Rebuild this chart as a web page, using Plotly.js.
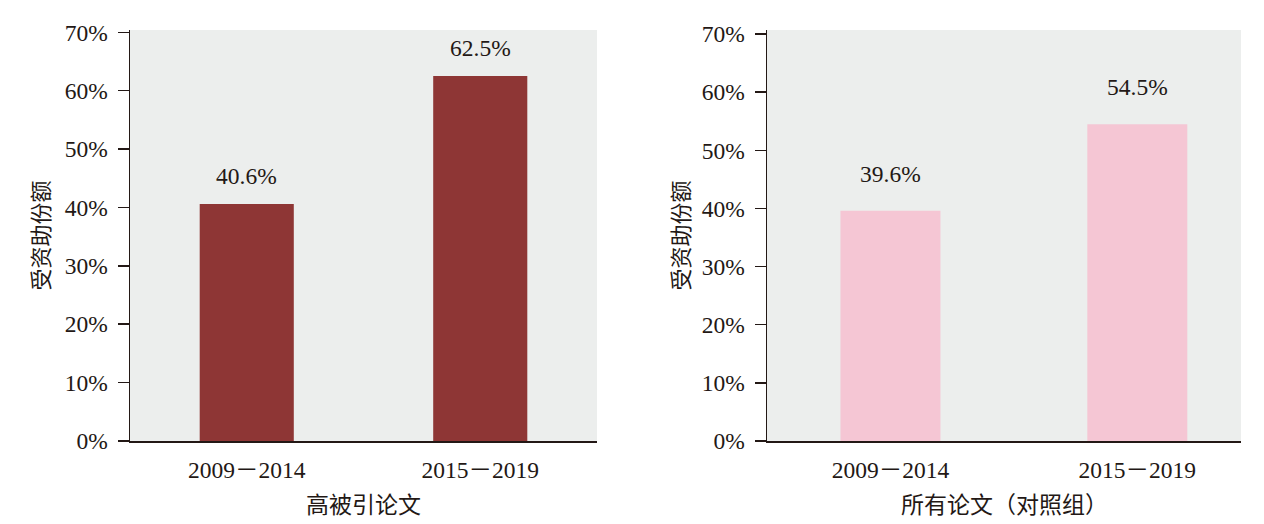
<!DOCTYPE html>
<html>
<head>
<meta charset="utf-8">
<script src="https://cdn.plot.ly/plotly-3.0.1.min.js"></script>
<style>html,body{margin:0;padding:0;background:#fff;}#chart{width:1264px;height:524px;}</style>
</head>
<body>
<div id="chart"></div>
<script>
// Data
var periods = ["2009－2014", "2015－2019"];
var highlyCitedShare = [40.6, 62.5];
var allPapersShare = [39.6, 54.5];
var yTickValues = [0, 10, 20, 30, 40, 50, 60, 70];
var yTickLabels = ["0%", "10%", "20%", "30%", "40%", "50%", "60%", "70%"];
var leftTitle = "高被引论文";
var rightTitle = "所有论文（对照组）";
var yTitle = "受资助份额";

var W = 1264;
var ink = "#231815";
var FONT = "'Liberation Serif', 'Times New Roman', 'Noto Sans CJK SC', serif";
var CJK = "'Noto Sans CJK SC', serif";

function fmt(v) { return v.toFixed(1) + "%"; }

var traces = [
  {type: "bar", x: periods, y: highlyCitedShare, xaxis: "x", yaxis: "y",
   marker: {color: "#8E3635"}, width: 0.403, hoverinfo: "x+y"},
  {type: "bar", x: periods, y: allPapersShare, xaxis: "x2", yaxis: "y2",
   marker: {color: "#F5C6D4"}, width: 0.405, hoverinfo: "x+y"}
];

var annotations = [];
periods.forEach(function (p, i) {
  annotations.push({xref: "x", yref: "y", x: p, y: highlyCitedShare[i], text: fmt(highlyCitedShare[i]),
    showarrow: false, xanchor: "center", yanchor: "middle", yshift: 28, font: {family: FONT, size: 23.5, color: ink}});
  annotations.push({xref: "x2", yref: "y2", x: p, y: allPapersShare[i], text: fmt(allPapersShare[i]),
    showarrow: false, xanchor: "center", yanchor: "middle", yshift: 37, font: {family: FONT, size: 23.5, color: ink}});
});

var d1 = [130 / W, 597 / W];
var d2 = [767 / W, 1241 / W];

annotations.push({xref: "paper", yref: "paper", x: (d1[0] + d1[1]) / 2, y: 0, yshift: -62,
  text: leftTitle, showarrow: false, xanchor: "center", yanchor: "middle", font: {family: CJK, size: 23, color: ink}});
annotations.push({xref: "paper", yref: "paper", x: (d2[0] + d2[1]) / 2, y: 0, yshift: -62,
  text: rightTitle, showarrow: false, xanchor: "center", yanchor: "middle", font: {family: CJK, size: 23, color: ink}});
annotations.push({xref: "paper", yref: "paper", x: d1[0], xshift: -92, y: 0.5, textangle: -90,
  text: yTitle, showarrow: false, xanchor: "center", yanchor: "middle", font: {family: CJK, size: 22, color: ink}});
annotations.push({xref: "paper", yref: "paper", x: d2[0], xshift: -89, y: 0.5, textangle: -90,
  text: yTitle, showarrow: false, xanchor: "center", yanchor: "middle", font: {family: CJK, size: 22, color: ink}});

function xAxis(domain, range, anchor) {
  return {domain: domain, anchor: anchor, type: "category", range: range,
    showline: true, linecolor: ink, linewidth: 1.5, ticks: "", showgrid: false, zeroline: false,
    tickfont: {family: FONT, size: 23.5, color: ink}, ticklabelstandoff: 7, fixedrange: true};
}
function yAxis(range, anchor) {
  return {domain: [0, 1], anchor: anchor, range: range, tickvals: yTickValues, ticktext: yTickLabels,
    showline: true, linecolor: ink, linewidth: 1.5, ticks: "outside", ticklen: 11, tickwidth: 1.5,
    tickcolor: ink, showgrid: false, zeroline: false, ticklabelstandoff: 5,
    tickfont: {family: FONT, size: 23.5, color: ink}, fixedrange: true};
}

var layout = {
  width: 1264, height: 524,
  margin: {l: 0, r: 0, t: 30, b: 83, pad: 0},
  paper_bgcolor: "#ffffff", plot_bgcolor: "#ECEEED",
  showlegend: false,
  xaxis: xAxis(d1, [-0.5, 1.5], "y"),
  xaxis2: xAxis(d2, [-0.5, 1.42], "y2"),
  yaxis: yAxis([0, 70.4], "x"),
  yaxis2: yAxis([0, 70.7], "x2"),
  annotations: annotations,
  font: {family: FONT, color: ink}
};

Plotly.newPlot("chart", traces, layout, {displayModeBar: false, staticPlot: true});
</script>
</body>
</html>
